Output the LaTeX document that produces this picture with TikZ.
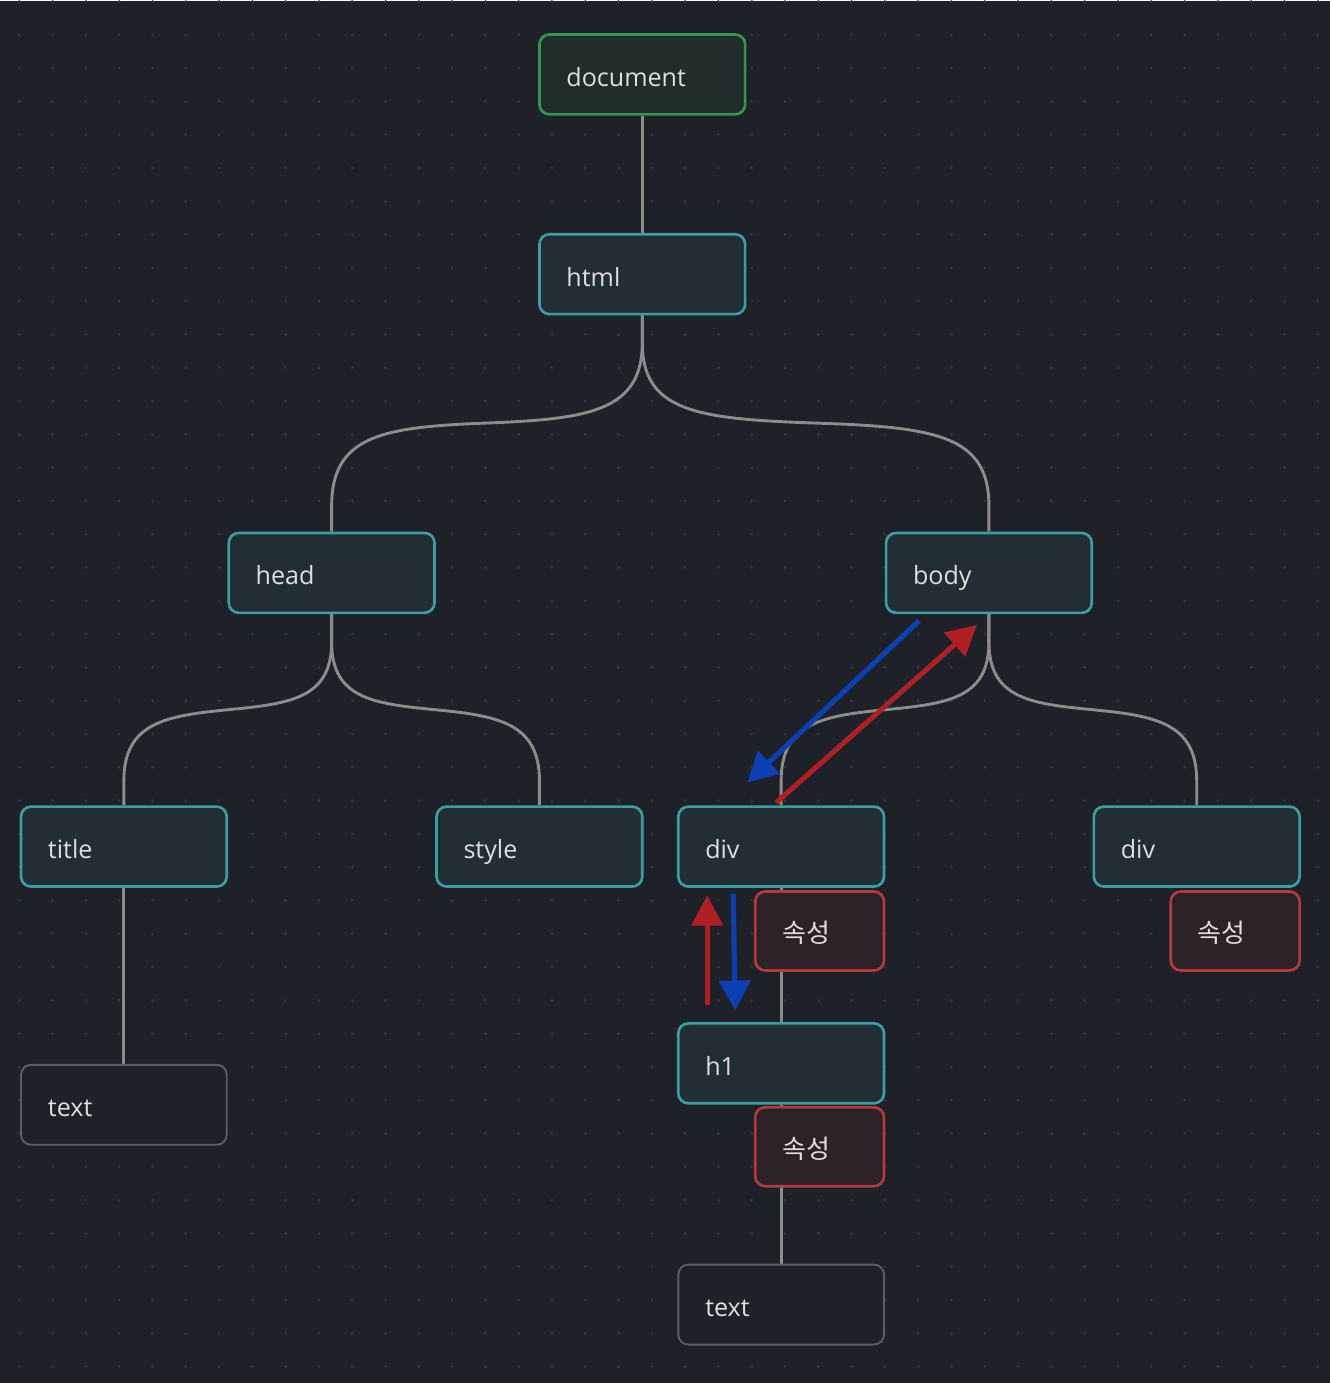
\documentclass[tikz,border=0pt]{standalone}
\usepackage{fontspec}
\setmainfont{Open Sans}
\newfontfamily\krfont{Noto Sans CJK KR}
\usetikzlibrary{arrows.meta}
\definecolor{bgc}{HTML}{1E2127}
\definecolor{dotc}{HTML}{33373D}
\definecolor{tealb}{HTML}{3C9E9E}
\definecolor{tealf}{HTML}{212F35}
\definecolor{greenb}{HTML}{2F9A4E}
\definecolor{greenf}{HTML}{212D2B}
\definecolor{redb}{HTML}{B6393F}
\definecolor{redf}{HTML}{2D2228}
\definecolor{grayb}{HTML}{5A5D62}
\definecolor{linec}{HTML}{8C8C8C}
\definecolor{txtc}{HTML}{DEDEDE}
\definecolor{arrblue}{HTML}{0B40B5}
\definecolor{arrred}{HTML}{B01F24}
\pgfdeclarelayer{back}
\pgfdeclarelayer{mid}
\pgfsetlayers{back,mid,main}
\tikzset{
  box/.style={draw, line width=1.5pt, rounded corners=0.2cm, minimum height=1.6cm,
    inner xsep=0.54cm, text width=3.04cm, align=left, text=txtc,
    text height=0.5cm, text depth=0.02cm,
    font=\fontsize{14.3pt}{16pt}\selectfont},
  tealbox/.style={box, draw=tealb, fill=tealf},
  greenbox/.style={box, draw=greenb, fill=greenf},
  graybox/.style={box, draw=grayb, fill=bgc, line width=1.1pt},
  attrbox/.style={box, draw=redb, fill=redf, text width=1.5cm, minimum height=1.58cm,
    font=\krfont\fontsize{14.8pt}{16pt}\selectfont},
  conn/.style={draw=linec, line width=1.65pt},
  bluearr/.style={draw=arrblue, line width=0.1cm, -{Triangle[length=0.6cm,width=0.62cm]}},
  redarr/.style={draw=arrred, line width=0.1cm, -{Triangle[length=0.6cm,width=0.62cm]}},
}
\begin{document}
\begin{tikzpicture}[x=0.02cm, y=-0.02cm]
\begin{pgfonlayer}{back}
\fill[bgc] (0,0) rectangle (1331,1383);
\foreach \i in {0,...,39}{
  \foreach \j in {0,...,41}{
    \fill[dotc] (19.3+33.33*\i, 33.33*\j) circle (0.03cm);
  }
}
\end{pgfonlayer}
\useasboundingbox (0,0) rectangle (1331,1383);

\node[greenbox] (document) at (643,73) {document};
\node[tealbox] (html) at (643,273) {html};
\node[tealbox] (head) at (332,572) {head};
\node[tealbox] (body) at (990,572) {body};
\node[tealbox] (title) at (124,846) {title};
\node[tealbox] (style) at (540,846) {style};
\node[tealbox] (div1) at (782,846) {div};
\node[tealbox] (div2) at (1198,846) {div};
\node[attrbox] (attr1) at (820.5,930.5) {속성};
\node[attrbox] (attr2) at (1236.5,930.5) {속성};
\node[tealbox] (h1) at (782,1063) {h1};
\node[attrbox] (attr3) at (820.5,1146.5) {속성};
\node[graybox] (text1) at (124,1104.5) {text};
\node[graybox] (text2) at (782,1304.5) {text};

\begin{pgfonlayer}{mid}
\draw[conn] (document.south) -- (html.north);
\draw[conn] (html.south) -- ++(0,27) .. controls (643,410) and (590,418) .. (487,422)
  .. controls (384,426) and (332,434) .. (332,505) -- (head.north);
\draw[conn] (html.south) -- ++(0,27) .. controls (643,410) and (696,418) .. (816,422)
  .. controls (936,426) and (990,434) .. (990,505) -- (body.north);
\draw[conn] (head.south) -- ++(0,28) .. controls (332,698) and (290,703) .. (228,709)
  .. controls (166,715) and (124,722) .. (124,780) -- (title.north);
\draw[conn] (head.south) -- ++(0,28) .. controls (332,698) and (374,703) .. (436,709)
  .. controls (498,715) and (540,722) .. (540,780) -- (style.north);
\draw[conn] (body.south) -- ++(0,28) .. controls (990,698) and (948,703) .. (886,709)
  .. controls (824,715) and (782,722) .. (782,780) -- (div1.north);
\draw[conn] (body.south) -- ++(0,28) .. controls (990,698) and (1032,703) .. (1094,709)
  .. controls (1156,715) and (1198,722) .. (1198,780) -- (div2.north);
\draw[conn] (title.south) -- (text1.north);
\draw[conn] (div1.south) -- (h1.north);
\draw[conn] (h1.south) -- (text2.north);
\end{pgfonlayer}

\coordinate (b1s) at (920,620);
\coordinate (b1e) at (748,782);
\coordinate (r1s) at (777,802);
\coordinate (r1e) at (978,624);
\coordinate (r2s) at (708,1005);
\coordinate (r2e) at (708,895);
\coordinate (b2s) at (734,893);
\coordinate (b2e) at (736,1010);
\draw[bluearr] (b1s) -- (b1e);
\draw[redarr] (r1s) -- (r1e);
\draw[redarr] (r2s) -- (r2e);
\draw[bluearr] (b2s) -- (b2e);
\end{tikzpicture}
\end{document}
